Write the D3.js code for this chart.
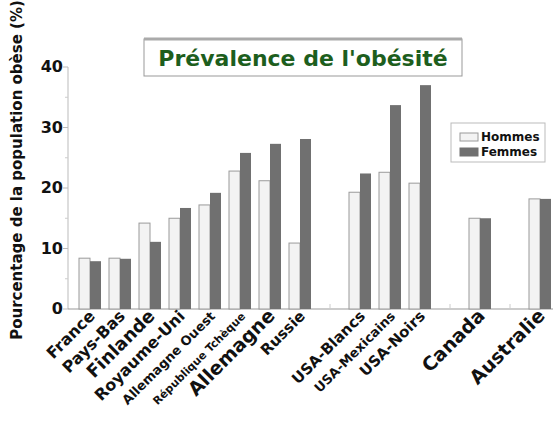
<!DOCTYPE html>
<html>
<head>
<meta charset="utf-8">
<script src="https://cdn.jsdelivr.net/npm/d3@7"></script>
<style>
  body { margin: 0; background: #fff; }
  text { font-family: "DejaVu Sans", sans-serif; }
</style>
</head>
<body>
<div id="chart"></div>
<script>
// categories ('' = empty slot on the axis)
var categories = ['France', 'Pays-Bas', 'Finlande', 'Royaume-Uni', 'Allemagne Ouest',
  'République Tchèque', 'Allemagne', 'Russie', '', 'USA-Blancs', 'USA-Mexicains',
  'USA-Noirs', ' ', 'Canada', '  ', 'Australie'];
var hommes = [8.4, 8.4, 14.2, 15.0, 17.2, 22.8, 21.2, 10.9, null, 19.3, 22.6, 20.8, null, 15.0, null, 18.2];
var femmes = [7.9, 8.3, 11.1, 16.7, 19.2, 25.8, 27.3, 28.1, null, 22.4, 33.7, 37.0, null, 15.0, null, 18.2];
var yTicks = [0, 10, 20, 30, 40];
var yMinor = [5, 15, 25, 35];
var labelSize = [16, 16, 18, 16, 13, 11, 19, 15, 0, 15, 13, 15, 0, 19, 0, 19];

var width = 553, height = 428;
var svg = d3.select('#chart').append('svg')
  .attr('width', width)
  .attr('height', height);

var x = d3.scaleBand()
  .domain(categories)
  .range([75, 555]);

var y = d3.scaleLinear()
  .domain([0, 40])
  .range([309, 67]);

var rows = categories.map(function(c, i) { return { cat: c, h: hommes[i], f: femmes[i] }; })
  .filter(function(d) { return d.h != null; });

// axes
svg.append('line')
  .attr('x1', 68).attr('x2', 68)
  .attr('y1', y(40)).attr('y2', y(0))
  .attr('stroke', '#bbb');
svg.append('line')
  .attr('x1', 68).attr('x2', 553)
  .attr('y1', y(0)).attr('y2', y(0))
  .attr('stroke', '#999');

svg.selectAll('.ytick')
  .data(yTicks)
  .enter().append('line')
  .attr('x1', 63).attr('x2', 68)
  .attr('y1', function(d) { return y(d); })
  .attr('y2', function(d) { return y(d); })
  .attr('stroke', '#bbb');
svg.selectAll('.yminor')
  .data(yMinor)
  .enter().append('line')
  .attr('x1', 65).attr('x2', 68)
  .attr('y1', function(d) { return y(d); })
  .attr('y2', function(d) { return y(d); })
  .attr('stroke', '#ccc');

svg.selectAll('.ylab')
  .data(yTicks)
  .enter().append('text')
  .attr('x', 63)
  .attr('y', function(d) { return y(d) + 5; })
  .attr('text-anchor', 'end')
  .attr('font-size', 16)
  .attr('font-weight', 'bold')
  .attr('fill', '#111')
  .text(function(d) { return d; });

// x ticks
svg.selectAll('.xtick')
  .data(categories)
  .enter().append('line')
  .attr('x1', function(d) { return x(d) + x.bandwidth() / 2; })
  .attr('x2', function(d) { return x(d) + x.bandwidth() / 2; })
  .attr('y1', y(0)).attr('y2', y(0) - 5)
  .attr('stroke', '#ccc');

// bars
var bw = 11;
svg.selectAll('.hommes')
  .data(rows)
  .enter().append('rect')
  .attr('x', function(d) { return x(d.cat) + 4; })
  .attr('y', function(d) { return y(d.h); })
  .attr('width', bw)
  .attr('height', function(d) { return y(0) - y(d.h); })
  .attr('fill', '#f3f3f3')
  .attr('stroke', '#9a9a9a');

svg.selectAll('.femmes')
  .data(rows)
  .enter().append('rect')
  .attr('x', function(d) { return x(d.cat) + 4 + bw; })
  .attr('y', function(d) { return y(d.f); })
  .attr('width', bw)
  .attr('height', function(d) { return y(0) - y(d.f); })
  .attr('fill', '#707070');

// x labels
svg.selectAll('.xlab')
  .data(categories)
  .enter().append('text')
  .attr('transform', function(d) {
    return 'translate(' + (x(d) + x.bandwidth() / 2 + 6) + ',' + (y(0) + 8) + ') rotate(-45)';
  })
  .attr('text-anchor', 'end')
  .attr('font-size', function(d, i) { return labelSize[i]; })
  .attr('font-weight', 'bold')
  .attr('fill', '#111')
  .text(function(d) { return d.trim(); });

// y axis title
svg.append('text')
  .attr('transform', 'translate(22,170) rotate(-90)')
  .attr('text-anchor', 'middle')
  .attr('font-size', 15)
  .attr('font-weight', 'bold')
  .attr('fill', '#111')
  .text('Pourcentage de la population obèse (%)');

// title box
svg.append('rect')
  .attr('x', 144).attr('y', 39)
  .attr('width', 318).attr('height', 37)
  .attr('fill', '#fff')
  .attr('stroke', '#999');
svg.append('line')
  .attr('x1', 144).attr('x2', 462)
  .attr('y1', 39).attr('y2', 39)
  .attr('stroke', '#aaa').attr('stroke-width', 3);
svg.append('text')
  .attr('x', 303).attr('y', 66)
  .attr('text-anchor', 'middle')
  .attr('font-size', 22)
  .attr('font-weight', 'bold')
  .attr('fill', '#1d5e1d')
  .text("Prévalence de l'obésité");

// legend
var legend = svg.append('g');
legend.append('rect')
  .attr('x', 451).attr('y', 123)
  .attr('width', 94).attr('height', 39)
  .attr('fill', '#fff')
  .attr('stroke', '#bbb');
var legendItems = [['Hommes', '#f3f3f3', '#9a9a9a'], ['Femmes', '#707070', '#707070']];
legend.selectAll('.sw')
  .data(legendItems)
  .enter().append('rect')
  .attr('x', 460)
  .attr('y', function(d, i) { return 133 + i * 15; })
  .attr('width', 18).attr('height', 8)
  .attr('fill', function(d) { return d[1]; })
  .attr('stroke', function(d) { return d[2]; });
legend.selectAll('.lt')
  .data(legendItems)
  .enter().append('text')
  .attr('x', 481)
  .attr('y', function(d, i) { return 141 + i * 15; })
  .attr('font-size', 12)
  .attr('font-weight', 'bold')
  .attr('fill', '#111')
  .text(function(d) { return d[0]; });
</script>
</body>
</html>
